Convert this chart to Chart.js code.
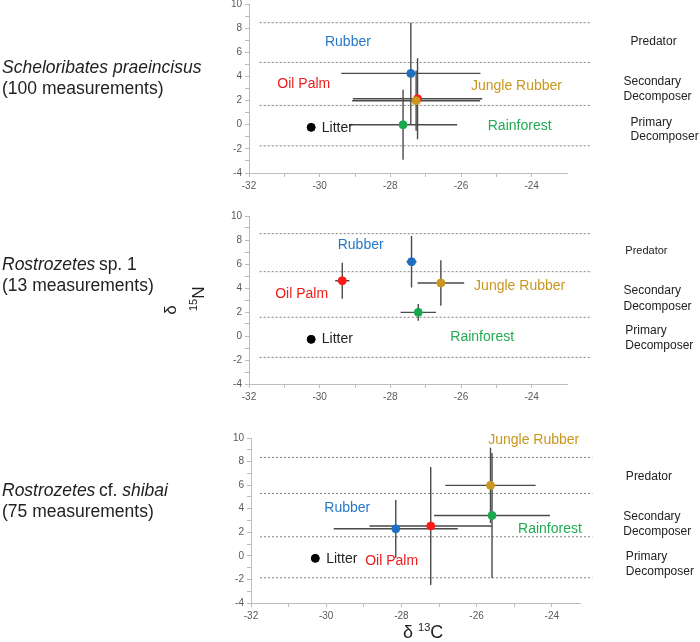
<!DOCTYPE html>
<html>
<head>
<meta charset="utf-8">
<script src="https://cdn.jsdelivr.net/npm/chart.js@4/dist/chart.umd.min.js"></script>
<style>
  body { margin: 0; background: #fff; font-family: "Liberation Sans", Arial, sans-serif; }
  #wrap { position: relative; width: 700px; height: 642px; overflow: hidden; }
  canvas.panel { position: absolute; left: 0; }
  .sp { position: absolute; left: 2px; font-size: 17.5px; color: #222; line-height: 21px; white-space: nowrap; }
  .rot { position: absolute; font-size: 17px; color: #222; transform: rotate(-90deg); transform-origin: center; white-space: nowrap; }
  .xt { position: absolute; font-size: 18px; color: #222; white-space: nowrap; }
  sup { font-size: 11px; }
</style>
</head>
<body>
<div id="wrap">
  <canvas class="panel" id="p1" width="700" height="209" style="top:-6px"></canvas>
  <canvas class="panel" id="p2" width="700" height="208" style="top:206px"></canvas>
  <canvas class="panel" id="p3" width="700" height="205" style="top:428px"></canvas>

  <div class="sp" style="top:57px"><i>Scheloribates praeincisus</i><br>(100 measurements)</div>
  <div class="sp" style="top:254px"><i>Rostrozetes</i>&thinsp;sp. 1<br>(13 measurements)</div>
  <div class="sp" style="top:480px"><i>Rostrozetes</i>&thinsp;cf. <i>shibai</i><br>(75 measurements)</div>

  <div class="rot" style="left:166px;top:300px">δ</div>
  <div class="rot" style="left:186px;top:288px"><sup>15</sup>N</div>
  <div class="xt" style="left:403px;top:621px">δ <sup>13</sup>C</div>
</div>

<script>
// groups, same order in every panel
const groups = ['Rubber', 'Oil Palm', 'Jungle Rubber', 'Rainforest', 'Litter'];
const pointColors = ['#1f6fc0', '#ff1a1a', '#c9961e', '#1aa84f', '#000000'];
const textColors = ['#2878c8', '#ee1c1c', '#c9961e', '#22aa55', '#222222'];

// tick marks (labels only on the even ones)
const xTickVals = [-32, -31, -30, -29, -28, -27, -26, -25, -24];
const yTickVals = [-4, -3, -2, -1, 0, 1, 2, 3, 4, 5, 6, 7, 8, 9, 10];

// panel 1: Scheloribates praeincisus
const p1C = [-27.42, -27.23, -27.27, -27.64, -30.24];
const p1N = [4.25, 2.15, 1.99, 0.0, -0.22];
const p1Cerr = [1.97, 1.83, 1.81, 1.53, 0];
const p1Nerr = [4.2, 3.35, 2.5, 2.9, 0];
const p1Levels = [8.45, 5.16, 1.6, -1.75];

// panel 2: Rostrozetes sp. 1
const p2C = [-27.40, -29.36, -26.57, -27.21, -30.24];
const p2N = [6.19, 4.61, 4.42, 1.97, -0.28];
const p2Cerr = [0.14, 0.2, 0.66, 0.5, 0];
const p2Nerr = [2.15, 1.5, 1.9, 0.7, 0];
const p2Levels = [8.53, 5.36, 1.56, -1.78];

// panel 3: Rostrozetes cf. shibai
const p3C = [-28.15, -27.22, -25.63, -25.59, -30.29];
const p3N = [2.3, 2.53, 5.98, 3.43, -0.21];
const p3Cerr = [1.65, 1.63, 1.2, 1.54, 0];
const p3Nerr = [2.45, 5.0, 3.2, 5.3, 0];
const p3Levels = [8.35, 5.3, 1.62, -1.86];

const trophic = ['Predator', 'Secondary', 'Decomposer', 'Primary', 'Decomposer'];

// where the group names sit, in data units of each panel
const p1Tags = [[-29.2, 6.88, 'center'], [-30.45, 3.4, 'center'], [-24.43, 3.23, 'center'], [-24.34, -0.14, 'center'], [-29.94, -0.25, 'left']];
const p2Tags = [[-28.84, 7.53, 'center'], [-30.51, 3.5, 'center'], [-24.34, 4.17, 'center'], [-25.40, -0.06, 'center'], [-29.94, -0.25, 'left']];
const p3Tags = [[-29.44, 4.08, 'center'], [-28.26, -0.44, 'center'], [-24.48, 9.82, 'center'], [-24.05, 2.3, 'center'], [-30.0, -0.27, 'left']];
const p1Side = [[-21.2, 6.88], [-21.4, 3.56], [-21.4, 2.32], [-21.2, 0.17], [-21.2, -1.0]];
const p2Side = [[-21.35, 7.08], [-21.4, 3.75], [-21.4, 2.42], [-21.35, 0.42], [-21.35, -0.83]];
const p3Side = [[-22.03, 6.68], [-22.1, 3.29], [-22.1, 2.02], [-22.03, -0.1], [-22.03, -1.37]];

const errorBars = {
  id: 'errorBars',
  beforeDatasetDraw(chart, args, o) {
    if (args.index !== 0) return;
    const { ctx, scales: { x, y } } = chart;
    ctx.save();
    ctx.strokeStyle = '#4a4a4a'; ctx.lineWidth = 1.4;
    o.c.forEach((c, i) => {
      const px = x.getPixelForValue(c), py = y.getPixelForValue(o.n[i]);
      ctx.beginPath();
      if (o.ce[i]) { ctx.moveTo(x.getPixelForValue(c - o.ce[i]), py); ctx.lineTo(x.getPixelForValue(c + o.ce[i]), py); }
      if (o.ne[i]) { ctx.moveTo(px, y.getPixelForValue(o.n[i] + o.ne[i])); ctx.lineTo(px, y.getPixelForValue(o.n[i] - o.ne[i])); }
      ctx.stroke();
    });
    ctx.restore();
  }
};

const notes = {
  id: 'notes',
  afterDraw(chart, args, o) {
    const { ctx, scales: { x, y } } = chart;
    ctx.save();
    ctx.textBaseline = 'middle';
    ctx.font = '14px "Liberation Sans", Arial, sans-serif';
    o.tags.forEach((t, i) => {
      ctx.fillStyle = textColors[i]; ctx.textAlign = t[2];
      ctx.fillText(groups[i], x.getPixelForValue(t[0]), y.getPixelForValue(t[1]));
    });
    ctx.fillStyle = '#222'; ctx.textAlign = 'left';
    o.side.forEach((s, i) => {
      ctx.font = (i === 0 ? o.predFont : '12px') + ' "Liberation Sans", Arial, sans-serif';
      ctx.fillText(trophic[i], x.getPixelForValue(s[0]), y.getPixelForValue(s[1]));
    });
    ctx.restore();
  }
};

function makePanel(id, C, N, Ce, Ne, levels, lineX, tags, side, padLeft, padRight, xMax, predFont) {
  const lines = levels.map(v => ({
    type: 'line', data: [{ x: lineX[0], y: v }, { x: lineX[1], y: v }],
    borderColor: '#808080', borderWidth: 1, borderDash: [2, 2], pointRadius: 0, clip: false
  }));
  new Chart(document.getElementById(id), {
    type: 'scatter',
    data: {
      datasets: [{
        data: C.map((c, i) => ({ x: c, y: N[i] })),
        pointBackgroundColor: pointColors, pointBorderColor: pointColors,
        pointRadius: 4, pointHoverRadius: 4
      }, ...lines]
    },
    options: {
      responsive: false, animation: false,
      layout: { padding: { top: 10, left: padLeft, right: padRight, bottom: 0 } },
      plugins: {
        legend: { display: false }, tooltip: { enabled: false },
        errorBars: { c: C, n: N, ce: Ce, ne: Ne },
        notes: { tags, side, predFont }
      },
      scales: {
        x: {
          type: 'linear', min: -32, max: xMax,
          afterFit(s) { s.height = 30; },
          afterBuildTicks(s) { s.ticks = xTickVals.map(v => ({ value: v })); },
          border: { color: '#bdbdbd' },
          grid: { drawOnChartArea: false, drawTicks: true, tickLength: 4, color: '#bdbdbd' },
          ticks: { autoSkip: false, maxRotation: 0, color: '#595959', font: { size: 10 },
            callback: v => v % 2 === 0 ? v : '' }
        },
        y: {
          min: -4, max: 10,
          afterFit(s) { s.width = 30; },
          afterBuildTicks(s) { s.ticks = yTickVals.map(v => ({ value: v })); },
          border: { color: '#bdbdbd' },
          grid: { drawOnChartArea: false, drawTicks: true, tickLength: 4, color: '#bdbdbd' },
          ticks: { autoSkip: false, color: '#595959', font: { size: 10 },
            callback: v => v % 2 === 0 ? v : '' }
        }
      }
    },
    plugins: [errorBars, notes]
  });
}

makePanel('p1', p1C, p1N, p1Cerr, p1Nerr, p1Levels, [-31.7, -22.3], p1Tags, p1Side, 219, 133, -23, '12px');
makePanel('p2', p2C, p2N, p2Cerr, p2Nerr, p2Levels, [-31.7, -22.3], p2Tags, p2Side, 219, 133, -23, '11px');
makePanel('p3', p3C, p3N, p3Cerr, p3Nerr, p3Levels, [-31.76, -22.92], p3Tags, p3Side, 221, 120, -23.25, '12px');
</script>
</body>
</html>
